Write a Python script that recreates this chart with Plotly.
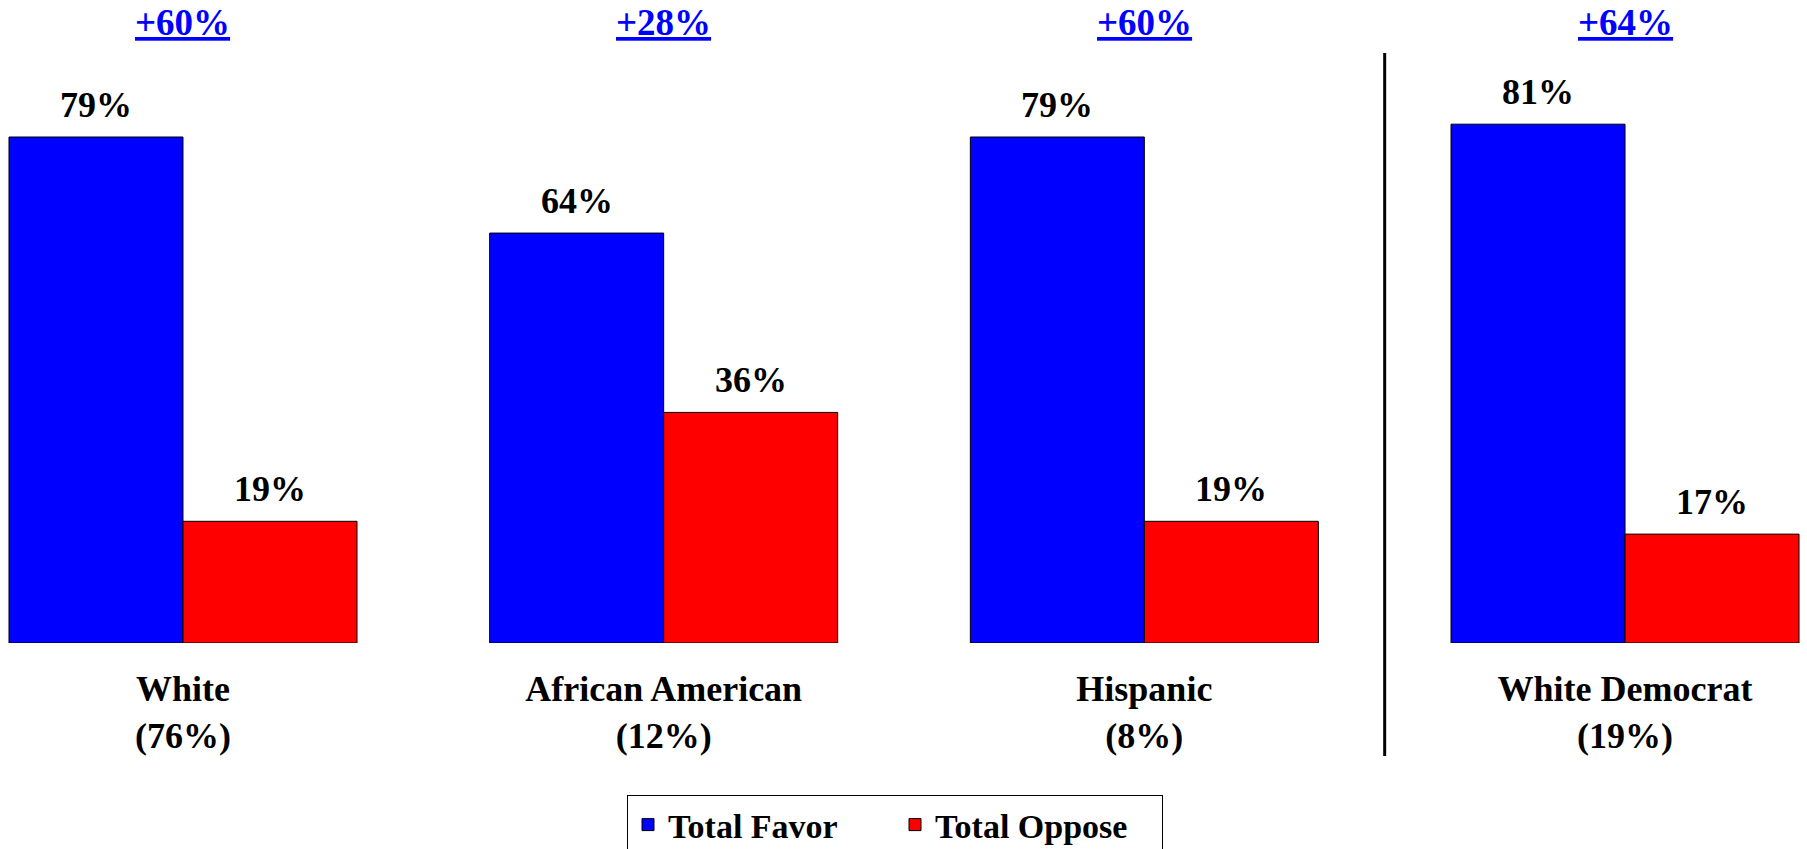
import plotly.graph_objects as go

categories = ["White", "African American", "Hispanic", "White Democrat"]
shares = ["(76%)", "(12%)", "(8%)", "(19%)"]
favor = [79, 64, 79, 81]
oppose = [19, 36, 19, 17]
net_labels = ["+60%", "+28%", "+60%", "+64%"]
series_names = ["Total Favor", "Total Oppose"]
series_colors = ["#0000FF", "#FF0000"]

FONT = "Liberation Serif, Tinos, Times New Roman, DejaVu Serif, serif"
BARGAP = 0.276
x_pos = list(range(len(categories)))

fig = go.Figure()
for name, vals, col in zip(series_names, [favor, oppose], series_colors):
    fig.add_trace(go.Bar(
        x=x_pos, y=vals, name=f"<b>{name}</b>",
        marker=dict(color=col, line=dict(color="black", width=1)),
    ))

bar_w = (1 - BARGAP) / 2
annotations = []
for i in x_pos:
    for k, vals in enumerate([favor, oppose]):
        xc = i + (k - 0.5) * bar_w
        annotations.append(dict(
            x=xc, y=vals[i], xref="x", yref="y", text=f"<b>{vals[i]}%</b>",
            showarrow=False, yanchor="middle", yshift=32,
            font=dict(family=FONT, size=36, color="black"),
        ))
    annotations.append(dict(
        x=i, y=0.969, xref="x", yref="paper",
        text=f'<b><span style="text-decoration:underline">{net_labels[i]}</span></b>',
        showarrow=False, yanchor="middle",
        font=dict(family=FONT, size=37, color="#0000FF"),
    ))

fig.add_shape(type="line", x0=2.5, x1=2.5, xref="x", y0=0.922, y1=-0.1766,
              yref="paper", line=dict(color="black", width=3))

fig.update_layout(
    width=1807, height=849,
    margin=dict(l=0, r=0, t=3, b=206, autoexpand=False),
    paper_bgcolor="white", plot_bgcolor="white",
    font=dict(family=FONT),
    barmode="group", bargap=BARGAP, bargroupgap=0,
    annotations=annotations,
    showlegend=True,
    legend=dict(
        orientation="h", x=0.4953, xanchor="center", y=-0.2375, yanchor="top",
        bordercolor="black", borderwidth=1, bgcolor="white",
        font=dict(family=FONT, size=34, color="black"),
        entrywidth=222, entrywidthmode="pixels",
    ),
    xaxis=dict(
        range=[-0.3807, 3.3786], tickvals=x_pos,
        ticktext=[f"<b>{c}</b><br><b>{s}</b>" for c, s in zip(categories, shares)],
        tickfont=dict(family=FONT, size=36, color="black"),
        showgrid=False, zeroline=False, showline=False, ticks="",
        ticklabelstandoff=21,
    ),
    yaxis=dict(range=[0, 99.92], visible=False),
)

fig.write_html("out.html", config={"displayModeBar": False},
               post_script="document.body.style.margin='0';")
